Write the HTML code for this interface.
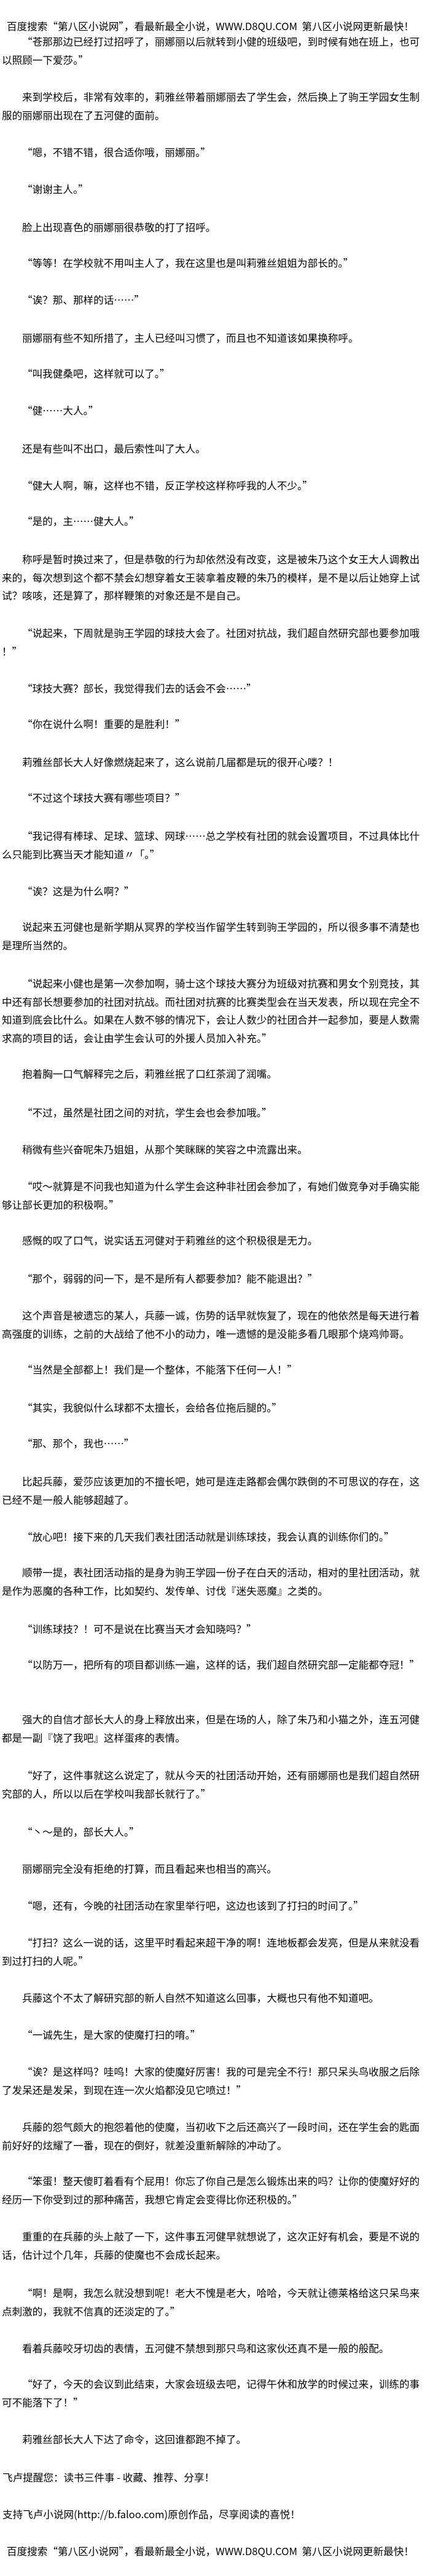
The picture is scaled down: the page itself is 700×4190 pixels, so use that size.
<!DOCTYPE html>
<html><head><meta charset="utf-8">
<style>
html,body{margin:0;padding:0;background:#fff;}
body{width:700px;height:4190px;position:relative;overflow:hidden;
font-family:"Noto Sans CJK SC","WenQuanYi Zen Hei","Liberation Sans",sans-serif;
font-size:16.6px;color:#000;}
.p{position:absolute;left:3px;line-height:29.5px;white-space:nowrap;text-indent:33px;font-variant-east-asian:full-width;}
.n{text-indent:0;left:4px;font-variant-east-asian:normal;}
.h{text-indent:0;left:11px;font-variant-east-asian:normal;}
</style></head><body>
<div class="p h" style="top:28px">百度搜索“第八区小说网”，看最新最全小说，WWW.D8QU.COM&nbsp;&nbsp;第八区小说网更新最快！</div>
<div class="p" style="top:53px">“苍那那边已经打过招呼了，丽娜丽以后就转到小健的班级吧，到时候有她在班上，也可<br>以照顾一下爱莎。”</div>
<div class="p" style="top:143px">来到学校后，非常有效率的，莉雅丝带着丽娜丽去了学生会，然后换上了驹王学园女生制<br>服的丽娜丽出现在了五河健的面前。</div>
<div class="p" style="top:233px">“嗯，不错不错，很合适你哦，丽娜丽。”</div>
<div class="p" style="top:293px">“谢谢主人。”</div>
<div class="p" style="top:355px">脸上出现喜色的丽娜丽很恭敬的打了招呼。</div>
<div class="p" style="top:413px">“等等！在学校就不用叫主人了，我在这里也是叫莉雅丝姐姐为部长的。”</div>
<div class="p" style="top:473px">“诶？那、那样的话……”</div>
<div class="p" style="top:535px">丽娜丽有些不知所措了，主人已经叫习惯了，而且也不知道该如果换称呼。</div>
<div class="p" style="top:593px">“叫我健桑吧，这样就可以了。”</div>
<div class="p" style="top:653px">“健……大人。”</div>
<div class="p" style="top:715px">还是有些叫不出口，最后索性叫了大人。</div>
<div class="p" style="top:775px">“健大人啊，嘛，这样也不错，反正学校这样称呼我的人不少。”</div>
<div class="p" style="top:833px">“是的，主……健大人。”</div>
<div class="p" style="top:895px">称呼是暂时换过来了，但是恭敬的行为却依然没有改变，这是被朱乃这个女王大人调教出<br>来的，每次想到这个都不禁会幻想穿着女王装拿着皮鞭的朱乃的模样，是不是以后让她穿上试<br>试？咳咳，还是算了，那样鞭策的对象还是不是自己。</div>
<div class="p" style="top:1015px">“说起来，下周就是驹王学园的球技大会了。社团对抗战，我们超自然研究部也要参加哦<br>！”</div>
<div class="p" style="top:1105px">“球技大赛？部长，我觉得我们去的话会不会……”</div>
<div class="p" style="top:1163px">“你在说什么啊！重要的是胜利！”</div>
<div class="p" style="top:1225px">莉雅丝部长大人好像燃烧起来了，这么说前几届都是玩的很开心喽？！</div>
<div class="p" style="top:1283px">“不过这个球技大赛有哪些项目？”</div>
<div class="p" style="top:1345px">“我记得有棒球、足球、篮球、网球……总之学校有社团的就会设置项目，不过具体比什<br>么只能到比赛当天才能知道〃「。”</div>
<div class="p" style="top:1435px">“诶？这是为什么啊？”</div>
<div class="p" style="top:1493px">说起来五河健也是新学期从冥界的学校当作留学生转到驹王学园的，所以很多事不清楚也<br>是理所当然的。</div>
<div class="p" style="top:1585px">“说起来小健也是第一次参加啊，骑士这个球技大赛分为班级对抗赛和男女个别竞技，其<br>中还有部长想要参加的社团对抗战。而社团对抗赛的比赛类型会在当天发表，所以现在完全不<br>知道到底会比什么。如果在人数不够的情况下，会让人数少的社团合并一起参加，要是人数需<br>求高的项目的话，会让由学生会认可的外援人员加入补充。”</div>
<div class="p" style="top:1732px">抱着胸一口气解释完之后，莉雅丝抿了口红茶润了润嘴。</div>
<div class="p" style="top:1795px">“不过，虽然是社团之间的对抗，学生会也会参加哦。”</div>
<div class="p" style="top:1855px">稍微有些兴奋呢朱乃姐姐，从那个笑眯眯的笑容之中流露出来。</div>
<div class="p" style="top:1915px">“哎～就算是不问我也知道为什么学生会这种非社团会参加了，有她们做竞争对手确实能<br>够让部长更加的积极啊。”</div>
<div class="p" style="top:2003px">感慨的叹了口气，说实话五河健对于莉雅丝的这个积极很是无力。</div>
<div class="p" style="top:2065px">“那个，弱弱的问一下，是不是所有人都要参加？能不能退出？”</div>
<div class="p" style="top:2125px">这个声音是被遗忘的某人，兵藤一诚，伤势的话早就恢复了，现在的他依然是每天进行着<br>高强度的训练，之前的大战给了他不小的动力，唯一遗憾的是没能多看几眼那个烧鸡帅哥。</div>
<div class="p" style="top:2213px">“当然是全部都上！我们是一个整体，不能落下任何一人！”</div>
<div class="p" style="top:2275px">“其实，我貌似什么球都不太擅长，会给各位拖后腿的。”</div>
<div class="p" style="top:2333px">“那、那个，我也……”</div>
<div class="p" style="top:2395px">比起兵藤，爱莎应该更加的不擅长吧，她可是连走路都会偶尔跌倒的不可思议的存在，这<br>已经不是一般人能够超越了。</div>
<div class="p" style="top:2485px">“放心吧！接下来的几天我们表社团活动就是训练球技，我会认真的训练你们的。”</div>
<div class="p" style="top:2543px">顺带一提，表社团活动指的是身为驹王学园一份子在白天的活动，相对的里社团活动，就<br>是作为恶魔的各种工作，比如契约、发传单、讨伐『迷失恶魔』之类的。</div>
<div class="p" style="top:2635px">“训练球技？！可不是说在比赛当天才会知晓吗？”</div>
<div class="p" style="top:2693px">“以防万一，把所有的项目都训练一遍，这样的话，我们超自然研究部一定能都夺冠！”</div>
<div class="p" style="top:2782px">强大的自信才部长大人的身上释放出来，但是在场的人，除了朱乃和小猫之外，连五河健<br>都是一副『饶了我吧』这样蛋疼的表情。</div>
<div class="p" style="top:2873px">“好了，这件事就这么说定了，就从今天的社团活动开始，还有丽娜丽也是我们超自然研<br>究部的人，所以以后在学校叫我部长就行了。”</div>
<div class="p" style="top:2965px">“丶～是的，部长大人。”</div>
<div class="p" style="top:3025px">丽娜丽完全没有拒绝的打算，而且看起来也相当的高兴。</div>
<div class="p" style="top:3085px">“嗯，还有，今晚的社团活动在家里举行吧，这边也该到了打扫的时间了。”</div>
<div class="p" style="top:3145px">“打扫？这么一说的话，这里平时看起来超干净的啊！连地板都会发亮，但是从来就没看<br>到过打扫的人呢。”</div>
<div class="p" style="top:3235px">兵藤这个不太了解研究部的新人自然不知道这么回事，大概也只有他不知道吧。</div>
<div class="p" style="top:3295px">“一诚先生，是大家的使魔打扫的唷。”</div>
<div class="p" style="top:3355px">“诶？是这样吗？哇呜！大家的使魔好厉害！我的可是完全不行！那只呆头鸟收服之后除<br>了发呆还是发呆，到现在连一次火焰都没见它喷过！”</div>
<div class="p" style="top:3445px">兵藤的怨气颇大的抱怨着他的使魔，当初收下之后还高兴了一段时间，还在学生会的匙面<br>前好好的炫耀了一番，现在的倒好，就差没重新解除的冲动了。</div>
<div class="p" style="top:3533px">“笨蛋！整天傻盯着看有个屁用！你忘了你自己是怎么锻炼出来的吗？让你的使魔好好的<br>经历一下你受到过的那种痛苦，我想它肯定会变得比你还积极的。”</div>
<div class="p" style="top:3623px">重重的在兵藤的头上敲了一下，这件事五河健早就想说了，这次正好有机会，要是不说的<br>话，估计过个几年，兵藤的使魔也不会成长起来。</div>
<div class="p" style="top:3715px">“啊！是啊，我怎么就没想到呢！老大不愧是老大，哈哈，今天就让德莱格给这只呆鸟来<br>点刺激的，我就不信真的还淡定的了。”</div>
<div class="p" style="top:3805px">看着兵藤咬牙切齿的表情，五河健不禁想到那只鸟和这家伙还真不是一般的般配。</div>
<div class="p" style="top:3863px">“好了，今天的会议到此结束，大家会班级去吧，记得午休和放学的时候过来，训练的事<br>可不能落下了！”</div>
<div class="p" style="top:3953px">莉雅丝部长大人下达了命令，这回谁都跑不掉了。</div>
<div class="p n" style="top:4015px">飞卢提醒您：读书三件事 - 收藏、推荐、分享！</div>
<div class="p n" style="top:4075px">支持飞卢小说网(http://b.faloo.com)原创作品，尽享阅读的喜悦！</div>
<div class="p h" style="top:4135px">百度搜索“第八区小说网”，看最新最全小说，WWW.D8QU.COM&nbsp;&nbsp;第八区小说网更新最快！</div>
</body></html>
